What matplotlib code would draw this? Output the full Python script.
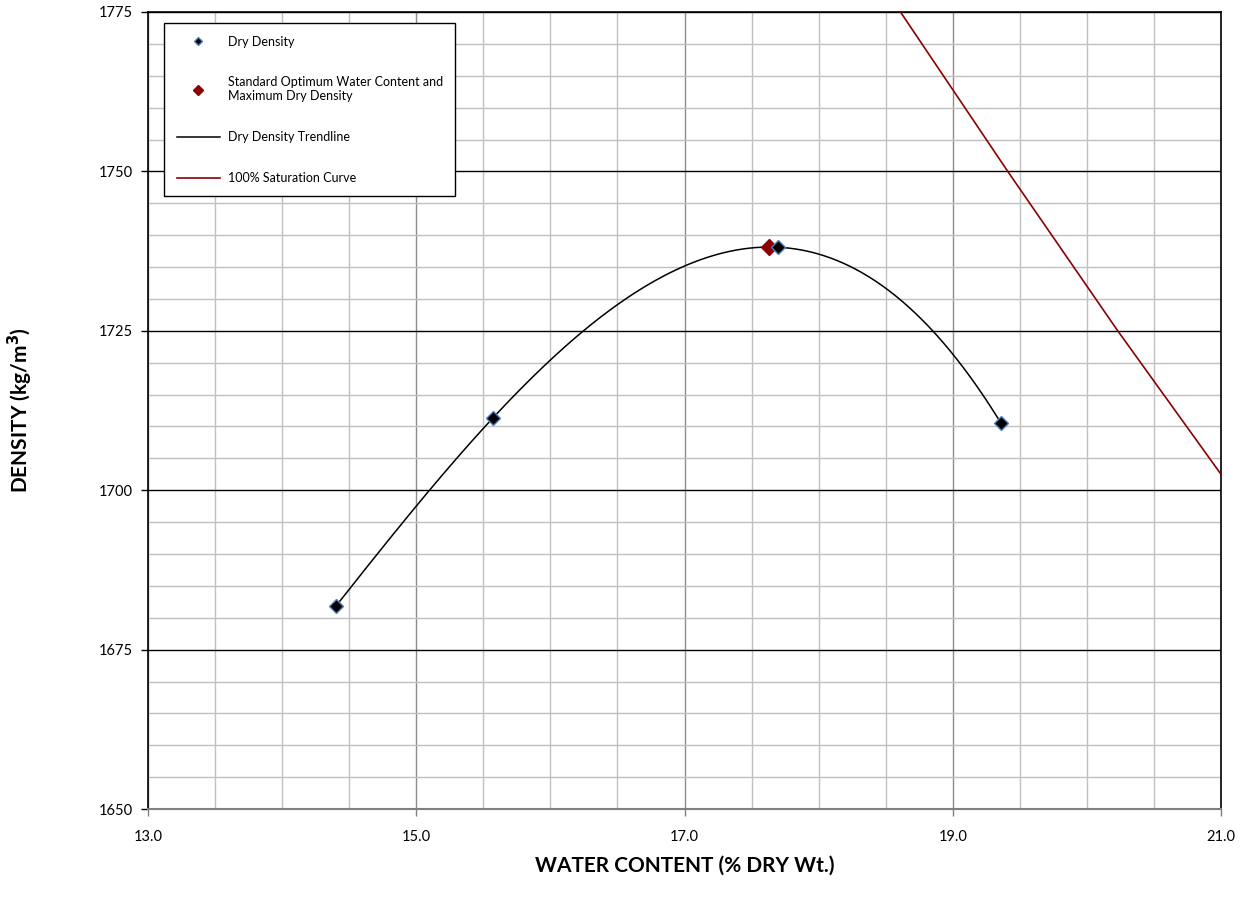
import numpy as np
import matplotlib.pyplot as plt
from matplotlib.ticker import MultipleLocator

plt.rcParams['font.family'] = ['Lato', 'DejaVu Sans']

# Puntos de ensayo (contenido de agua %, densidad seca kg/m3)
water_content = [14.40, 15.57, 17.70, 19.36]
dry_density = [1681.8, 1711.3, 1738.1, 1710.5]

# Optimo estandar
opt_water = [17.63]
opt_density = [1738.1]

# Curva de saturacion 100%
sat_water = [18.61, 19.41, 20.23, 21.0]
sat_density = [1775.0, 1750.0, 1725.0, 1702.5]

fig = plt.figure(figsize=(12.43, 9.07), dpi=100)
ax = fig.add_axes([0.1191, 0.1080, 0.8632, 0.8788])

# Linea de tendencia (polinomio de grado 3)
coef = np.polyfit(water_content, dry_density, 3)
xs = np.linspace(min(water_content), max(water_content), 300)
ax.plot(xs, np.polyval(coef, xs), color='black', lw=1.1, zorder=3,
        label='Dry Density Trendline')

ax.plot(sat_water, sat_density, color='#8B0000', lw=1.2, zorder=3,
        label='100% Saturation Curve')

ax.plot(opt_water, opt_density, 'D', color='#8B0000', markersize=8,
        markeredgecolor='#8B0000', zorder=4,
        label='Standard Optimum Water Content and\nMaximum Dry Density')
ax.plot(water_content, dry_density, 'D', color='black', markersize=7,
        markeredgecolor='#4F81BD', markeredgewidth=1.0, zorder=5,
        label='Dry Density')

ax.set_xlim(13, 21)
ax.set_ylim(1650, 1775)
ax.xaxis.set_major_locator(MultipleLocator(2))
ax.xaxis.set_minor_locator(MultipleLocator(0.5))
ax.yaxis.set_major_locator(MultipleLocator(25))
ax.yaxis.set_minor_locator(MultipleLocator(5))
ax.set_xticks(np.arange(13, 21.1, 2))
ax.set_xticklabels([f'{v:.1f}' for v in np.arange(13, 21.1, 2)])

ax.grid(which='minor', axis='both', color='#c0c0c0', lw=1.0, zorder=0)
ax.grid(which='major', axis='x', color='#8c8c8c', lw=1.0, zorder=1)
ax.grid(which='major', axis='y', color='black', lw=1.0, zorder=1)
ax.set_axisbelow(True)

ax.tick_params(axis='y', which='major', direction='out', length=5, width=1,
               labelsize=10.5, pad=6)
ax.tick_params(axis='x', which='major', direction='out', length=5, width=1,
               color='#808080', labelsize=10.5, pad=10)
ax.tick_params(which='minor', length=0)

for side in ['left', 'top', 'right']:
    ax.spines[side].set_color('black')
    ax.spines[side].set_linewidth(1.2)
ax.spines['bottom'].set_color('#808080')
ax.spines['bottom'].set_linewidth(1.5)

fig.text(0.551, 1 - 866 / 907, 'WATER CONTENT (% DRY Wt.)', fontsize=15,
         fontweight='bold', ha='center', va='center')
fig.text(20 / 1243, 1 - 410 / 907, 'DENSITY (kg/m$^\\mathbf{3}$)', fontsize=15,
         fontweight='bold', ha='center', va='center', rotation=90)

handles, labels = ax.get_legend_handles_labels()
order = [3, 2, 0, 1]
leg = ax.legend([handles[i] for i in order], [labels[i] for i in order],
                loc='upper left', bbox_to_anchor=(0.0149, 0.986),
                borderaxespad=0, fontsize=9, labelspacing=2.3,
                handlelength=3.5, handletextpad=0.6, borderpad=1.0,
                fancybox=False, framealpha=1, edgecolor='black',
                markerscale=0.6)
leg.get_frame().set_linewidth(1.0)

plt.savefig('out.png', dpi=100)
